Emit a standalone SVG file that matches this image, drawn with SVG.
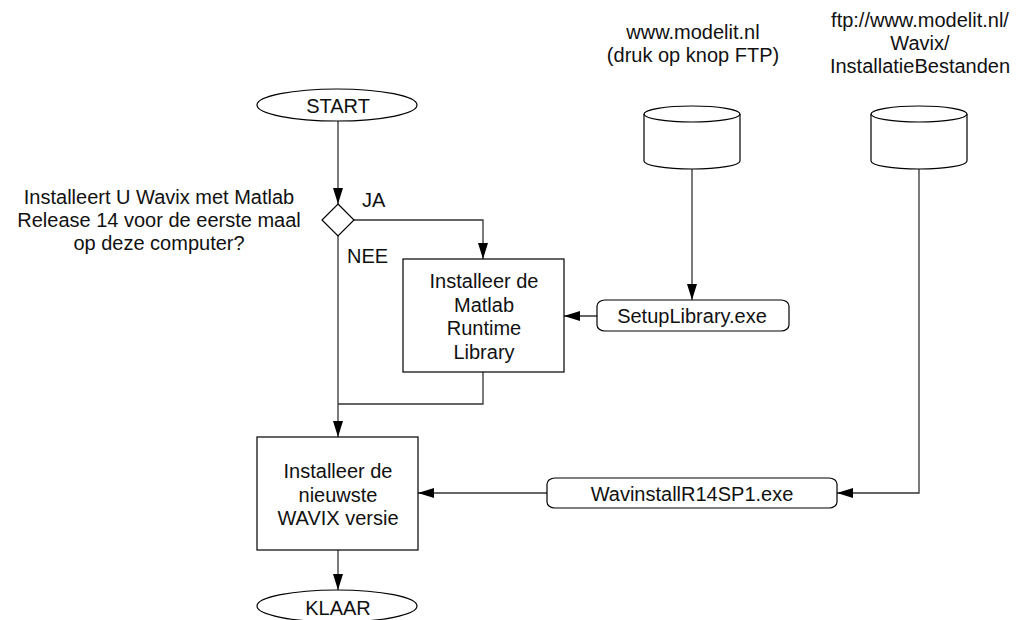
<svg xmlns="http://www.w3.org/2000/svg" width="1018" height="620" viewBox="0 0 1018 620">
<style>
text{font-family:"Liberation Sans",Arial,sans-serif;font-size:20px;fill:#111}
.c{text-anchor:middle}
.s{fill:#fff;stroke:#000;stroke-width:1.2}
.e{fill:none;stroke:#333;stroke-width:1.3}
</style>
<defs>
<marker id="a" markerUnits="userSpaceOnUse" markerWidth="16" markerHeight="10" refX="16" refY="5" orient="auto">
<path d="M0,0 L16,5 L0,10 Z" fill="#000"/>
</marker>
</defs>
<rect width="1018" height="620" fill="#fff"/>
<g id="connectors">
<path class="e" d="M338,121 V204" marker-end="url(#a)"/>
<path class="e" d="M354,220 H483 V259" marker-end="url(#a)"/>
<path class="e" d="M338,236 V437" marker-end="url(#a)"/>
<path class="e" d="M483,372 V404 H338"/>
<path class="e" d="M338,550 V590" marker-end="url(#a)"/>
<path class="e" d="M692,169 V300" marker-end="url(#a)"/>
<path class="e" d="M597,316 H564" marker-end="url(#a)"/>
<path class="e" d="M919,169 V493 H837" marker-end="url(#a)"/>
<path class="e" d="M547,493 H418" marker-end="url(#a)"/>
</g>
<g id="start">
<ellipse class="s" cx="337" cy="105" rx="80" ry="16"/>
<text class="c" x="338" y="113">START</text>
</g>
<g id="decision">
<path class="s" d="M338,204 L354,220 L338,236 L322,220 Z"/>
<text class="c" x="159" y="204">Installeert U Wavix met Matlab</text>
<text class="c" x="159" y="227">Release 14 voor de eerste maal</text>
<text class="c" x="159" y="250">op deze computer?</text>
<text x="362" y="207">JA</text>
<text x="347" y="263">NEE</text>
</g>
<g id="install-library">
<rect class="s" x="403" y="259" width="161" height="113"/>
<text class="c" x="484" y="288">Installeer de</text>
<text class="c" x="484" y="311.5">Matlab</text>
<text class="c" x="484" y="335">Runtime</text>
<text class="c" x="484" y="358.5">Library</text>
</g>
<g id="install-wavix">
<rect class="s" x="257" y="437" width="161" height="113"/>
<text class="c" x="338" y="478">Installeer de</text>
<text class="c" x="338" y="502">nieuwste</text>
<text class="c" x="338" y="525">WAVIX versie</text>
</g>
<g id="klaar">
<ellipse class="s" cx="337" cy="606" rx="80" ry="16"/>
<text class="c" x="338" y="615">KLAAR</text>
</g>
<g id="setuplibrary">
<rect class="s" x="597" y="300" width="192" height="31" rx="8" ry="6"/>
<text class="c" x="692" y="323">SetupLibrary.exe</text>
</g>
<g id="wavinstall">
<rect class="s" x="547" y="478" width="290" height="30" rx="8" ry="6"/>
<text class="c" x="692" y="501">WavinstallR14SP1.exe</text>
</g>
<g id="db-modelit">
<path class="s" d="M644,114 L644,161 A48,8 0 0 0 740,161 L740,114 A48,8 0 0 0 644,114 Z"/>
<path class="s" d="M644,114 A48,8 0 0 0 740,114" fill="none"/>
<text class="c" x="693" y="39">www.modelit.nl</text>
<text class="c" x="693" y="62">(druk op knop FTP)</text>
</g>
<g id="db-ftp">
<path class="s" d="M871,114 L871,161 A48,8 0 0 0 967,161 L967,114 A48,8 0 0 0 871,114 Z"/>
<path class="s" d="M871,114 A48,8 0 0 0 967,114" fill="none"/>
<text class="c" x="920" y="27">ftp://www.modelit.nl/</text>
<text class="c" x="920" y="50">Wavix/</text>
<text class="c" x="920" y="73">InstallatieBestanden</text>
</g>
</svg>
